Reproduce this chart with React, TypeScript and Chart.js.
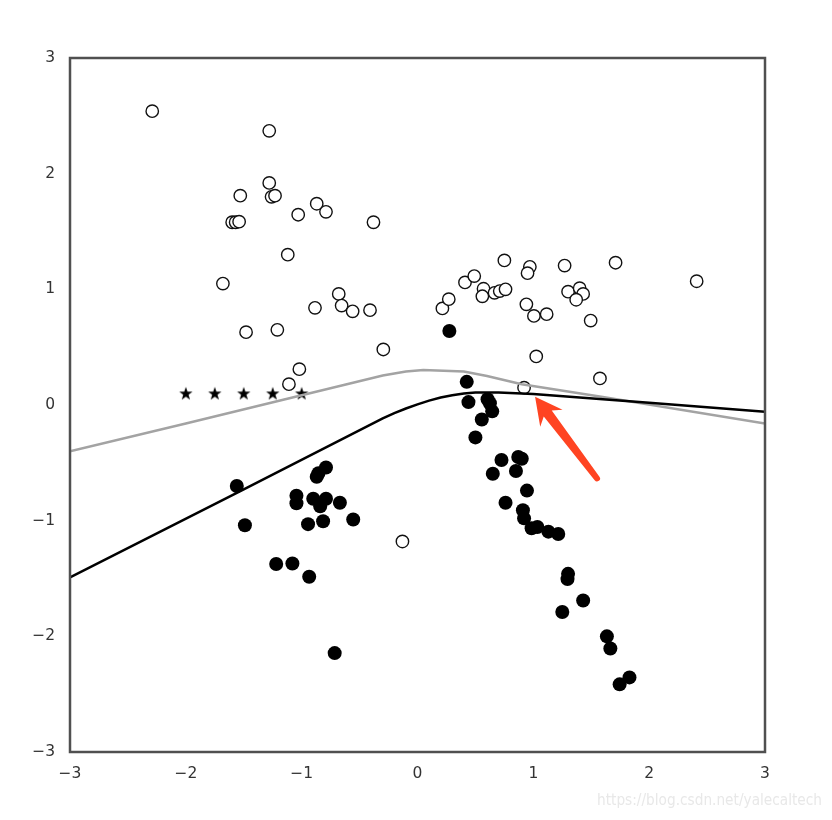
import { useEffect, useRef } from 'react';
import { Chart, registerables } from 'chart.js';

Chart.register(...registerables);

// Open (hollow) circles
const openX = [
  -2.29, -1.28, -1.28, -1.26, -1.23, -1.53, -1.6, -1.57, -1.54, -1.03, -0.87, -0.79, -0.38,
  -1.12, -1.68, -0.68, -0.655, -0.56, -0.885, -0.41, -1.48, -1.21, -0.295, -1.02, -1.11,
  0.215, 0.27, 0.41, 0.49, 0.75, 0.57, 0.56, 0.665, 0.71, 0.76, 0.97, 0.95, 1.27, 1.71, 2.41,
  1.3, 1.4, 1.43, 1.37, 0.94, 1.005, 1.115, 1.495, 1.025, 1.575, 0.92, -0.13,
];
const openY = [
  2.54, 2.37, 1.92, 1.8, 1.81, 1.81, 1.58, 1.58, 1.585, 1.645, 1.74, 1.67, 1.58,
  1.3, 1.05, 0.96, 0.86, 0.81, 0.84, 0.82, 0.63, 0.65, 0.48, 0.31, 0.18,
  0.835, 0.915, 1.06, 1.115, 1.25, 1.005, 0.94, 0.97, 0.985, 1.0, 1.195, 1.14, 1.205, 1.23, 1.07,
  0.98, 1.01, 0.96, 0.91, 0.87, 0.77, 0.785, 0.73, 0.42, 0.23, 0.15, -1.18,
];

// Filled circles
const fillX = [
  0.275, 0.425, 0.44, 0.605, 0.625, 0.645, 0.555, 0.5, 0.725, 0.87, 0.9, 0.65, 0.85, 0.945,
  0.76, 0.91, 0.92, 0.985, 1.035, 1.13, 1.215, 1.3, 1.295, 1.43, 1.25, 1.635, 1.665, 1.83, 1.745,
  -1.56, -1.49, -0.79, -0.855, -0.87, -1.045, -1.045, -0.9, -0.79, -0.84, -0.67, -0.555,
  -0.945, -0.815, -1.22, -1.08, -0.935, -0.715,
];
const fillY = [
  0.64, 0.2, 0.025, 0.05, 0.015, -0.055, -0.125, -0.28, -0.475, -0.45, -0.465, -0.595, -0.57, -0.74,
  -0.845, -0.91, -0.98, -1.065, -1.055, -1.095, -1.115, -1.46, -1.505, -1.69, -1.79, -2.0, -2.105, -2.355, -2.415,
  -0.7, -1.04, -0.54, -0.59, -0.62, -0.785, -0.85, -0.81, -0.81, -0.875, -0.845, -0.99,
  -1.03, -1.005, -1.375, -1.37, -1.485, -2.145,
];

// Stars
const starX = [-2, -1.75, -1.5, -1.25, -1];
const starY = [0.1, 0.1, 0.1, 0.1, 0.1];

// Black boundary line
const blackX = [-3, -1.5, -0.3, -0.2, -0.1, 0, 0.1, 0.2, 0.3, 0.4, 0.5, 0.7, 1.0, 2.0, 3.0];
const blackY = [-1.49, -0.73, -0.115, -0.07, -0.03, 0.005, 0.038, 0.065, 0.085, 0.1, 0.108, 0.108, 0.095, 0.02, -0.058];

// Gray boundary line
const grayX = [-3, -2, -1, -0.3, -0.1, 0.05, 0.4, 0.6, 0.9, 1.6, 3.0];
const grayY = [-0.4, -0.16, 0.085, 0.255, 0.29, 0.303, 0.29, 0.25, 0.18, 0.07, -0.16];

// Red annotation arrow (data coordinates)
const arrowTail = [1.55, -0.635];
const arrowTip = [1.015, 0.072];

const axisMin = -3;
const axisMax = 3;
const watermark = 'https://blog.csdn.net/yalecaltech';

const zip = (xs: number[], ys: number[]) => xs.map((x, i) => ({ x, y: ys[i] }));
const fmt = (v: number) => (v < 0 ? '\u2212' + Math.abs(v) : String(v));

function makeStar(r: number) {
  const c = document.createElement('canvas');
  const s = Math.ceil(r * 2 + 2);
  c.width = s;
  c.height = s;
  const ctx = c.getContext('2d')!;
  ctx.translate(s / 2, s / 2 + 0.5);
  ctx.beginPath();
  for (let i = 0; i < 10; i++) {
    const rr = i % 2 === 0 ? r : r * 0.4;
    const a = -Math.PI / 2 + (i * Math.PI) / 5;
    ctx.lineTo(rr * Math.cos(a), rr * Math.sin(a));
  }
  ctx.closePath();
  ctx.fillStyle = '#000';
  ctx.fill();
  return c;
}

const decorPlugin = {
  id: 'decor',
  afterDraw(chart: any) {
    const { ctx, chartArea: a, scales } = chart;
    const xs = scales.x;
    const ys = scales.y;
    ctx.save();
    // frame
    ctx.strokeStyle = '#505050';
    ctx.lineWidth = 2.5;
    ctx.strokeRect(a.left, a.top, a.right - a.left, a.bottom - a.top);

    // arrow
    const tx = xs.getPixelForValue(arrowTip[0]);
    const ty = ys.getPixelForValue(arrowTip[1]);
    const bx = xs.getPixelForValue(arrowTail[0]);
    const by = ys.getPixelForValue(arrowTail[1]);
    const L = Math.hypot(bx - tx, by - ty);
    const ux = (bx - tx) / L;
    const uy = (by - ty) / L;
    const nx = -uy;
    const ny = ux;
    const headLen = 27;
    const headHalf = 14;
    const neck = 21;
    const neckHalf = 5;
    const tailHalf = 3;
    const P = (d: number, w: number) => [tx + ux * d + nx * w, ty + uy * d + ny * w];
    ctx.fillStyle = '#ff4422';
    ctx.beginPath();
    ctx.moveTo(tx, ty);
    let p = P(headLen, headHalf);
    ctx.lineTo(p[0], p[1]);
    p = P(neck, neckHalf);
    ctx.lineTo(p[0], p[1]);
    p = P(L, tailHalf);
    ctx.lineTo(p[0], p[1]);
    const ang = Math.atan2(uy, ux);
    ctx.arc(bx, by, tailHalf, ang + Math.PI / 2, ang - Math.PI / 2, true);
    p = P(neck, -neckHalf);
    ctx.lineTo(p[0], p[1]);
    p = P(headLen, -headHalf);
    ctx.lineTo(p[0], p[1]);
    ctx.closePath();
    ctx.fill();

    // watermark
    ctx.font = '15px "Liberation Sans Narrow", "DejaVu Sans Condensed", "Liberation Sans", sans-serif';
    ctx.fillStyle = '#e8e8e8';
    ctx.textBaseline = 'middle';
    const w = ctx.measureText(watermark).width;
    const target = 225;
    ctx.translate(822 - target, 801);
    ctx.scale(target / w, 1);
    ctx.textAlign = 'left';
    ctx.fillText(watermark, 0, 0);
    ctx.restore();
  },
};

export default function App() {
  const ref = useRef<HTMLCanvasElement>(null);
  useEffect(() => {
    if (!ref.current) return;
    const star = makeStar(7);
    const tickFont = { family: '"DejaVu Sans", sans-serif', size: 15.5 };
    const chart = new Chart(ref.current, {
      type: 'scatter',
      data: {
        datasets: [
          {
            type: 'line',
            data: zip(blackX, blackY),
            borderColor: '#000',
            borderWidth: 2.5,
            pointRadius: 0,
            tension: 0,
            fill: false,
            order: 0,
          } as any,
          {
            type: 'line',
            data: zip(grayX, grayY),
            borderColor: '#a3a3a3',
            borderWidth: 2.5,
            pointRadius: 0,
            tension: 0,
            fill: false,
            order: 1,
          } as any,
          {
            data: zip(openX, openY),
            pointStyle: 'circle',
            pointRadius: 6.2,
            backgroundColor: '#fff',
            borderColor: '#111',
            borderWidth: 1.4,
            order: 3,
          },
          {
            data: zip(fillX, fillY),
            pointStyle: 'circle',
            pointRadius: 7,
            backgroundColor: '#000',
            borderColor: '#000',
            borderWidth: 0,
            order: 4,
          },
          {
            data: zip(starX, starY),
            pointStyle: star as any,
            pointRadius: 7,
            order: 5,
          },
        ],
      },
      options: {
        animation: false,
        responsive: false,
        events: [],
        layout: { padding: { left: 0, top: 58, right: 67, bottom: 0 } },
        plugins: { legend: { display: false }, tooltip: { enabled: false } },
        scales: {
          x: {
            type: 'linear',
            min: axisMin,
            max: axisMax,
            grid: { display: false, drawTicks: false },
            border: { display: false },
            ticks: { stepSize: 1, padding: 13, color: '#333', font: tickFont, callback: (v: any) => fmt(Number(v)) },
            afterFit: (s: any) => {
              s.height = 68;
            },
          },
          y: {
            type: 'linear',
            min: axisMin,
            max: axisMax,
            grid: { display: false, drawTicks: false },
            border: { display: false },
            ticks: { stepSize: 1, padding: 15, color: '#333', font: tickFont, callback: (v: any) => fmt(Number(v)) },
            afterFit: (s: any) => {
              s.width = 70;
            },
          },
        },
      },
      plugins: [decorPlugin],
    });
    return () => chart.destroy();
  }, []);
  return (
    <div style={{ position: 'fixed', left: 0, top: 0, width: 832, height: 820, background: '#fff' }}>
      <canvas ref={ref} width={832} height={820} style={{ display: 'block' }} />
    </div>
  );
}
